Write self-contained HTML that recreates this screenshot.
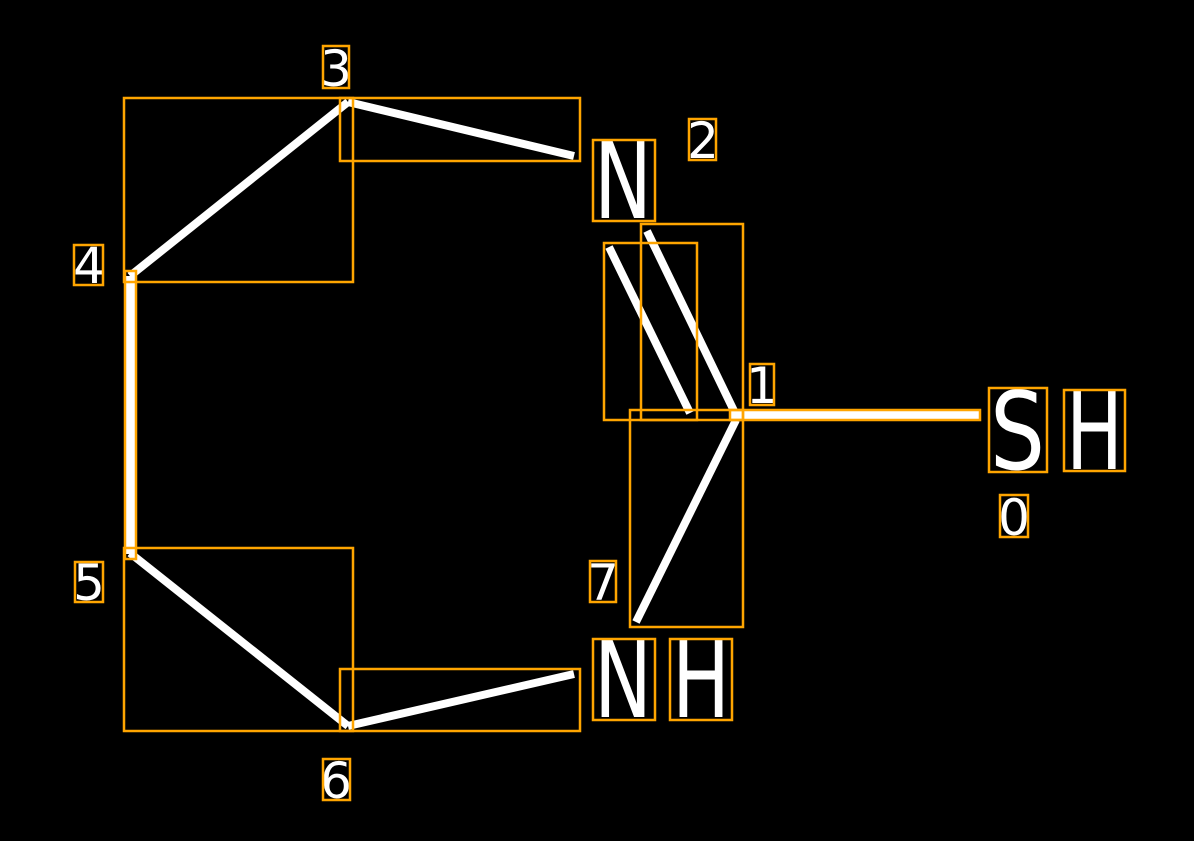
<!DOCTYPE html>
<html><head><style>body{margin:0;background:#000}svg{display:block}</style></head><body>
<svg width="1194" height="841" viewBox="0 0 1194 841" xmlns="http://www.w3.org/2000/svg">
<rect width="1194" height="841" fill="#000"/>
<g stroke="#fff" stroke-width="8" fill="none">
<line x1="130" y1="276" x2="348" y2="102"/>
<line x1="348" y1="102" x2="574" y2="156"/>
<line x1="647" y1="231" x2="736" y2="415"/>
<line x1="609" y1="247" x2="690" y2="413"/>
<line x1="736" y1="420" x2="636" y2="622"/>
<line x1="130" y1="553" x2="348" y2="726"/>
<line x1="348" y1="726" x2="574" y2="674"/>
</g>
<rect x="126" y="276" width="9" height="278" fill="#fff"/>
<rect x="731" y="410" width="248" height="10" fill="#fff"/>
<g fill="#fff" font-family="DejaVu Sans, Liberation Sans, sans-serif">
<text x="594" y="218" font-size="108" textLength="58" lengthAdjust="spacingAndGlyphs">N</text>
<text x="990" y="469" font-size="108" textLength="55" lengthAdjust="spacingAndGlyphs">S</text>
<text x="1066" y="469" font-size="108" textLength="57" lengthAdjust="spacingAndGlyphs">H</text>
<text x="594" y="717" font-size="108" textLength="58" lengthAdjust="spacingAndGlyphs">N</text>
<text x="672" y="717" font-size="108" textLength="58" lengthAdjust="spacingAndGlyphs">H</text>
<g font-size="50" text-anchor="middle">
<text x="703" y="158">2</text>
<text x="762" y="403">1</text>
<text x="1014" y="535">0</text>
<text x="603" y="600">7</text>
<text x="336" y="798">6</text>
<text x="89" y="600">5</text>
<text x="89" y="283">4</text>
<text x="336" y="86">3</text>
</g>
</g>
<g stroke="#FFA500" stroke-width="2.5" fill="none">
<rect x="124" y="98" width="229" height="184"/>
<rect x="340" y="98" width="240" height="63"/>
<rect x="593" y="140" width="62" height="81"/>
<rect x="689" y="119" width="27" height="41"/>
<rect x="641" y="224" width="102" height="196"/>
<rect x="604" y="243" width="93" height="177"/>
<rect x="750" y="364" width="24" height="41"/>
<rect x="630" y="410" width="113" height="217"/>
<rect x="730" y="410" width="250" height="10"/>
<rect x="989" y="388" width="58" height="84"/>
<rect x="1064" y="390" width="61" height="81"/>
<rect x="1000" y="495" width="28" height="42"/>
<rect x="590" y="561" width="26" height="41"/>
<rect x="593" y="639" width="62" height="81"/>
<rect x="670" y="639" width="62" height="81"/>
<rect x="124" y="548" width="229" height="183"/>
<rect x="340" y="669" width="240" height="62"/>
<rect x="323" y="759" width="27" height="41"/>
<rect x="75" y="562" width="28" height="40"/>
<rect x="74" y="245" width="29" height="40"/>
<rect x="323" y="46" width="26" height="42"/>
<rect x="125" y="271" width="11" height="288"/>
</g>
</svg>
</body></html>
